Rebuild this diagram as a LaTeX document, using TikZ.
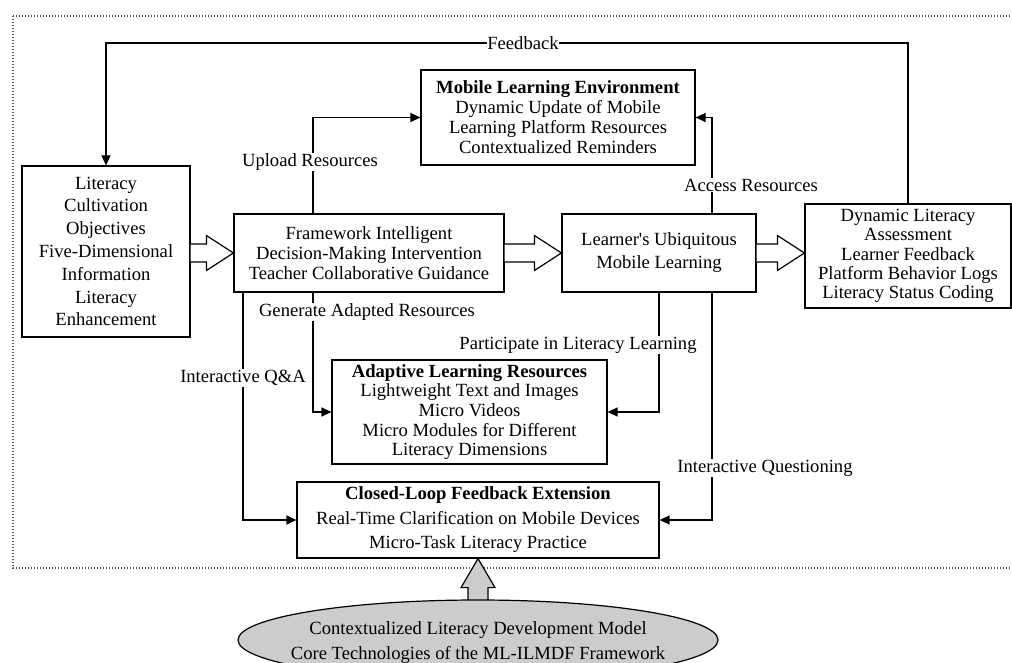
\documentclass[tikz,border=0pt]{standalone}
\usepackage{fontspec}
\setmainfont{Liberation Serif}[Ligatures=TeXOff]
\usetikzlibrary{arrows.meta,calc,shapes.geometric}
\begin{document}
\begin{tikzpicture}[x=1pt,y=-1pt,
 box/.style={draw,line width=1.2pt,align=center,inner sep=0pt,font=\fontsize{18.6}{20}\selectfont},
 conn/.style={line width=1.2pt},
 arr/.style={conn,-{Triangle[length=10pt,width=9pt]}},
 lbl/.style={fill=white,inner sep=1pt,font=\fontsize{18.6}{20}\selectfont},
 barrow/.style={line width=1.2pt,fill=white,line join=miter}]
\useasboundingbox (0,0) rectangle (1012,663);
\draw[line width=1.2pt,dash pattern=on 1.3pt off 1.7pt,black!70] (13,16) rectangle (1020,568);

% boxes
\node[box,minimum width=168pt,minimum height=171pt,font=\fontsize{18.6}{22.8}\selectfont] (lb) at (106,251.5)
 {Literacy\\Cultivation\\Objectives\\Five-Dimensional\\Information\\Literacy\\Enhancement};
\node[box,minimum width=274pt,minimum height=95pt] (mb) at (558,117.5)
 {\textbf{Mobile Learning Environment}\\Dynamic Update of Mobile\\Learning Platform Resources\\Contextualized Reminders};
\node[box,minimum width=270pt,minimum height=78pt] (fw) at (369,253)
 {Framework Intelligent\\Decision-Making Intervention\\Teacher Collaborative Guidance};
\node[box,minimum width=194pt,minimum height=78pt,font=\fontsize{18.6}{23}\selectfont] (lr) at (659,253)
 {Learner's Ubiquitous\\Mobile Learning};
\node[box,minimum width=206pt,minimum height=104pt,font=\fontsize{18.6}{19.3}\selectfont] (rb) at (908,256)
 {Dynamic Literacy\\Assessment\\Learner Feedback\\Platform Behavior Logs\\Literacy Status Coding};
\node[box,minimum width=275pt,minimum height=104pt,font=\fontsize{18.6}{19.6}\selectfont] (ad) at (469.5,412)
 {\textbf{Adaptive Learning Resources}\\Lightweight Text and Images\\Micro Videos\\Micro Modules for Different\\Literacy Dimensions};
\node[box,minimum width=362pt,minimum height=76pt,font=\fontsize{18.6}{24.5}\selectfont] (cl) at (478,520)
 {\textbf{Closed-Loop Feedback Extension}\\Real-Time Clarification on Mobile Devices\\Micro-Task Literacy Practice};

% feedback loop
\coordinate (fby) at (0,43);
\draw[arr] (rb.north) |- (fby -| lb.north) -- (lb.north);
\node[lbl,inner sep=0.5pt] (fbl) at (523,43) {Feedback};

% connectors
\draw[arr] ([xshift=-56pt]fw.north) |- (mb.west);
\node[lbl] (ul) at (310,162) {Upload Resources};
\draw[arr] ([xshift=53pt]lr.north) |- (mb.east);
\node[lbl] (al) at (751,185) {Access Resources};
\draw[arr] ([xshift=-56pt]fw.south) |- (ad.west);
\node[lbl] (gl) at (367,312) {Generate Adapted Resources};
\draw[arr] ([xshift=-126pt]fw.south) |- (cl.west);
\node[lbl] (ql) at (243,378) {Interactive Q\&A};
\draw[arr] (lr.south) |- (ad.east);
\node[lbl] (pl) at (578,345) {Participate in Literacy Learning};
\draw[arr] ([xshift=53pt]lr.south) |- (cl.east);
\node[lbl] (il) at (765,468) {Interactive Questioning};

% block arrows
\newcommand\harrow[2]{%
 \draw[barrow] ($(#1)+(0,-9)$) -- ($(#2)+(-27,-9)$) -- ($(#2)+(-27,-17.5)$) -- (#2)
   -- ($(#2)+(-27,17.5)$) -- ($(#2)+(-27,9)$) -- ($(#1)+(0,9)$);}
\coordinate (a1s) at (lb.east |- fw.west);
\coordinate (a1t) at (fw.west);
\harrow{a1s}{a1t}
\coordinate (a2s) at (fw.east);
\coordinate (a2t) at (lr.west);
\harrow{a2s}{a2t}
\coordinate (a3s) at (lr.east);
\coordinate (a3t) at (rb.west |- lr.east);
\harrow{a3s}{a3t}

% bottom gray arrow and ellipse
\coordinate (ta) at (cl.south);
\draw[barrow,fill=gray!40] ($(ta)+(-10,44)$) -- ($(ta)+(-10,29)$) -- ($(ta)+(-17,29)$) -- (ta)
  -- ($(ta)+(17,29)$) -- ($(ta)+(10,29)$) -- ($(ta)+(10,44)$);
\node[ellipse,draw,line width=1.2pt,fill=gray!40,minimum width=480pt,minimum height=80pt,inner sep=0pt] (el) at (478,640) {};
\node[align=center,inner sep=0pt,font=\fontsize{18.6}{25}\selectfont] (elt) at (478,642.5)
 {Contextualized Literacy Development Model\\Core Technologies of the ML-ILMDF Framework};
\end{tikzpicture}
\end{document}
